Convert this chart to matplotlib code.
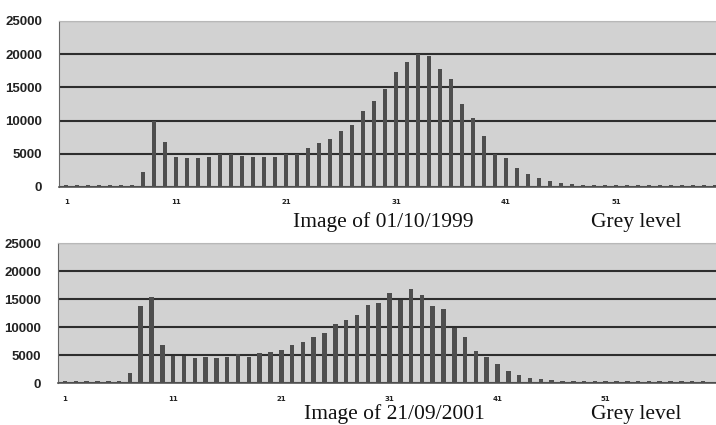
import numpy as np
import matplotlib
matplotlib.use("Agg")
import matplotlib.pyplot as plt

# grey level histograms of the two images (bins 1..60)
grey_levels = list(range(1, 61))

counts_1999 = [350, 350, 350, 350, 350, 350, 350, 2300, 10000, 6800,
               4500, 4300, 4300, 4500, 5000, 5000, 4700, 4500, 4500, 4500,
               5000, 5000, 5800, 6600, 7200, 8500, 9300, 11400, 12900, 14800,
               17300, 18800, 20000, 19800, 17800, 16300, 12500, 10400, 7700, 5000,
               4300, 2900, 1900, 1300, 900, 650, 450, 350, 350, 350,
               300, 300, 300, 300, 300, 300, 300, 300, 300, 300]

counts_2001 = [350, 350, 350, 350, 350, 350, 1700, 13800, 15400, 6700,
               4900, 4900, 4400, 4600, 4400, 4600, 5100, 4600, 5400, 5600,
               5950, 6700, 7400, 8200, 8900, 10600, 11300, 12100, 14000, 14300,
               16000, 14900, 16800, 15800, 13800, 13300, 9800, 8300, 5800, 4600,
               3400, 2100, 1400, 950, 650, 450, 350, 300, 300, 300,
               300, 300, 300, 300, 300, 300, 300, 300, 300, 300]

x_ticks = [1, 11, 21, 31, 41, 51]
y_ticks = [0, 5000, 10000, 15000, 20000, 25000]
captions = ["Image of 01/10/1999", "Image of 21/09/2001"]

fig = plt.figure(figsize=(7.16, 4.25), dpi=100)

# axes boxes (left, bottom, width, height)
boxes = [[0.0824, 0.560, 0.9176, 0.3906],
         [0.0810, 0.0988, 0.9190, 0.3294]]
xlims = [(0.35, 60.1), (0.35, 61.2)]
caption_y = [0.466, 0.014]
caption_x = [0.409, 0.424]

for i, counts in enumerate([counts_1999, counts_2001]):
    ax = fig.add_axes(boxes[i])
    ax.set_facecolor("#d2d2d2")
    ax.bar(grey_levels, counts, width=0.42, color="#4e4e4e", zorder=3)
    ax.set_xlim(*xlims[i])
    ax.set_ylim(0, 25000)

    ax.set_yticks(y_ticks)
    ax.set_yticklabels([str(v) for v in y_ticks], fontfamily="Liberation Sans",
                       fontsize=9.5, fontweight="bold", color="#222")
    ax.set_xticks(x_ticks)
    ax.set_xticklabels([str(v) for v in x_ticks], fontsize=5, fontweight="bold",
                       color="#222")
    ax.tick_params(axis="y", length=0, pad=12)
    ax.tick_params(axis="x", length=0, pad=9)

    # heavy horizontal lines like the old spreadsheet chart
    ax.yaxis.grid(True, color="#2e2e2e", linewidth=1.5)
    ax.set_axisbelow(True)

    ax.spines["right"].set_visible(False)
    ax.spines["top"].set_color("#b8b8b8")
    ax.spines["left"].set_color("#666")
    ax.spines["bottom"].set_color("#555")
    ax.spines["bottom"].set_linewidth(1.2)

    fig.text(caption_x[i], caption_y[i], captions[i], fontfamily="Liberation Serif",
             fontsize=15.5, color="#111")
    fig.text(0.825, caption_y[i], "Grey level", fontfamily="Liberation Serif",
             fontsize=15.5, color="#111")

fig.savefig("out.png", dpi=100)
